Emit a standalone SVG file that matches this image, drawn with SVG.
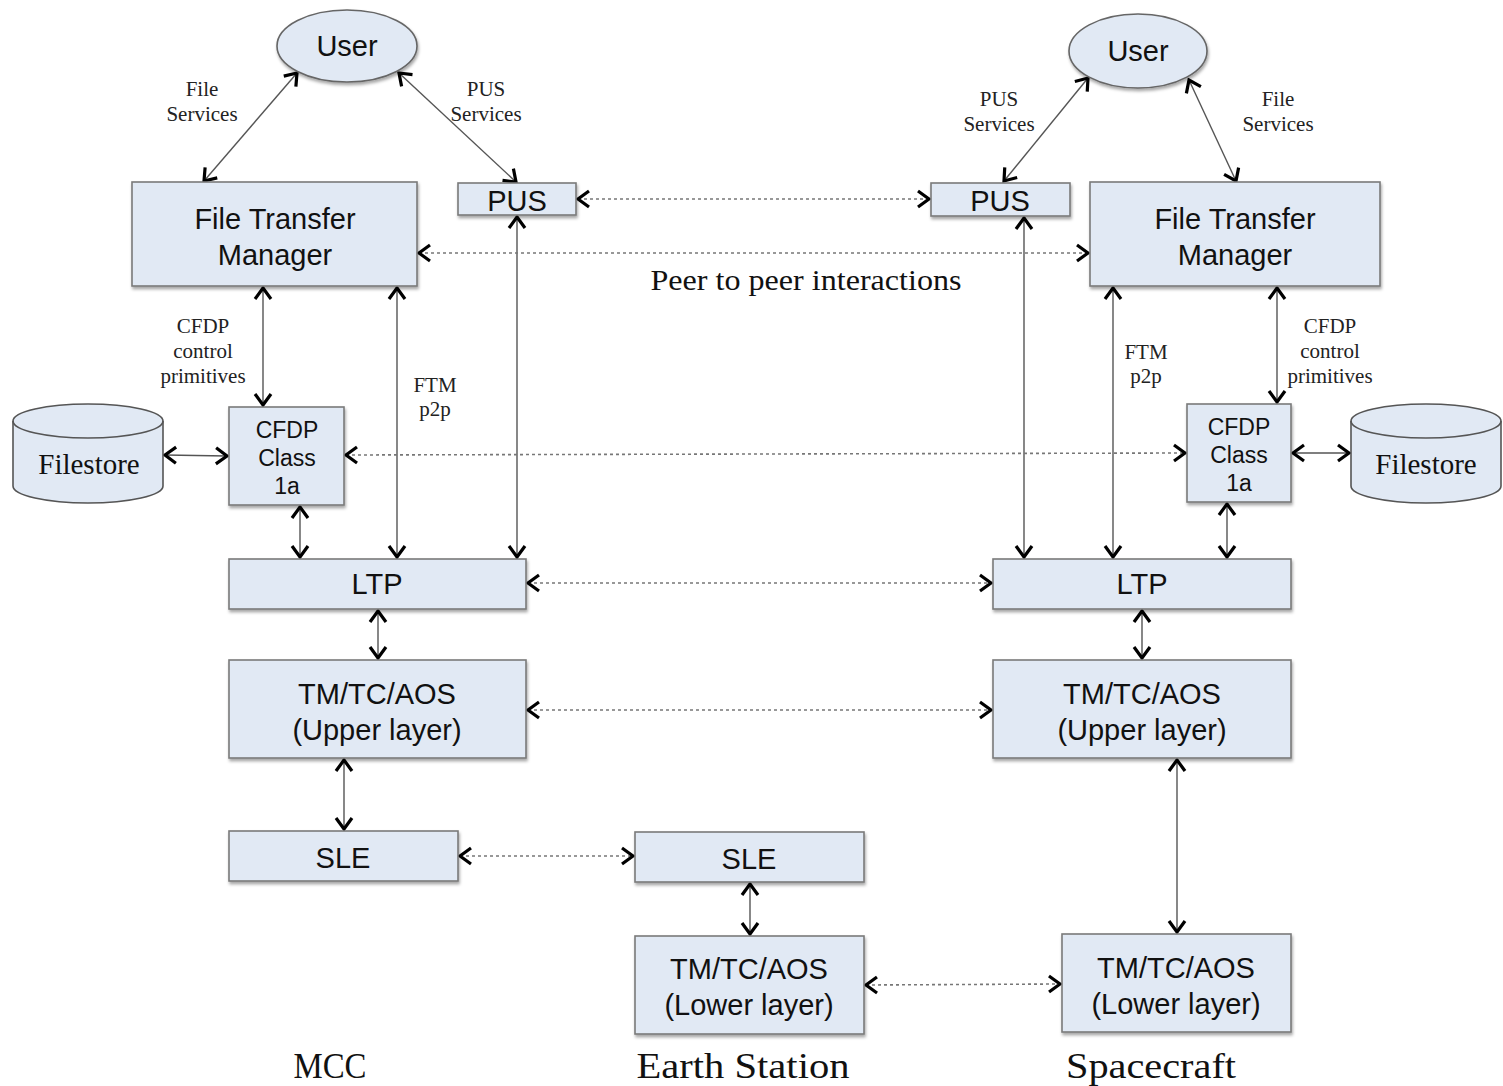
<svg xmlns="http://www.w3.org/2000/svg" width="1503" height="1086" viewBox="0 0 1503 1086">
  <style>
    .box { fill: #e1e9f4; stroke: #7a7a7a; stroke-width: 1.6; filter: url(#shadow); }
    .t { font-family: "Liberation Sans", Arial, sans-serif; fill: #111; text-anchor: middle; }
    .big { font-size: 29px; }
    .mid { font-size: 23px; }
    .lbl { font-family: "Liberation Serif", "Times New Roman", serif; fill: #222; text-anchor: middle; font-size: 21px; }
    .cap { font-family: "Liberation Serif", "Times New Roman", serif; fill: #111; text-anchor: middle; }
    .solid { fill: none; stroke: #555; stroke-width: 1.4; marker-start: url(#chev); marker-end: url(#chev); }
    .dash { fill: none; stroke: #777; stroke-width: 1.6; stroke-dasharray: 3 3; marker-start: url(#chev); marker-end: url(#chev); }
  </style>
  <defs>
    <filter id="shadow" x="-10%" y="-10%" width="130%" height="140%">
      <feDropShadow dx="1" dy="2.5" stdDeviation="1.5" flood-color="#000" flood-opacity="0.35"/>
    </filter>
    <marker id="chev" viewBox="0 0 20 20" markerWidth="20" markerHeight="20" refX="15" refY="10" orient="auto-start-reverse" markerUnits="userSpaceOnUse">
      <path d="M4,2 L15,10 L4,18" fill="none" stroke="#000" stroke-width="3.2" stroke-linejoin="miter"/>
    </marker>
  </defs>

  <rect width="1503" height="1086" fill="#fff"/>

  <!-- connectors -->
  <g id="connectors">
    <!-- MCC side -->
    <line class="solid" x1="297" y1="73" x2="204" y2="181"/>
    <line class="solid" x1="399" y1="73" x2="516" y2="182"/>
    <line class="solid" x1="263" y1="288" x2="263" y2="405"/>
    <line class="solid" x1="397" y1="288" x2="397" y2="557"/>
    <line class="solid" x1="517" y1="217" x2="517" y2="557"/>
    <line class="solid" x1="165" y1="455" x2="227" y2="456"/>
    <line class="solid" x1="300" y1="507" x2="300" y2="557"/>
    <line class="solid" x1="378" y1="611" x2="378" y2="658"/>
    <line class="solid" x1="344" y1="760" x2="344" y2="829"/>
    <!-- Earth station -->
    <line class="solid" x1="750" y1="884" x2="750" y2="934"/>
    <!-- Spacecraft side -->
    <line class="solid" x1="1088" y1="78" x2="1004" y2="181"/>
    <line class="solid" x1="1189" y1="80" x2="1236" y2="181"/>
    <line class="solid" x1="1024" y1="218" x2="1024" y2="557"/>
    <line class="solid" x1="1113" y1="288" x2="1113" y2="557"/>
    <line class="solid" x1="1277" y1="288" x2="1277" y2="402"/>
    <line class="solid" x1="1293" y1="453" x2="1349" y2="453"/>
    <line class="solid" x1="1227" y1="504" x2="1227" y2="557"/>
    <line class="solid" x1="1142" y1="611" x2="1142" y2="658"/>
    <line class="solid" x1="1177" y1="760" x2="1177" y2="932"/>
    <!-- peer to peer -->
    <line class="dash" x1="578" y1="199" x2="929" y2="199"/>
    <line class="dash" x1="419" y1="253" x2="1088" y2="253"/>
    <line class="dash" x1="346" y1="455" x2="1185" y2="453"/>
    <line class="dash" x1="528" y1="583" x2="991" y2="583"/>
    <line class="dash" x1="528" y1="710" x2="991" y2="710"/>
    <line class="dash" x1="460" y1="856" x2="633" y2="856"/>
    <line class="dash" x1="866" y1="985" x2="1060" y2="984"/>
  </g>

  <!-- connector labels -->
  <g id="labels">
    <text class="lbl" x="202" y="96">File</text>
    <text class="lbl" x="202" y="121">Services</text>
    <text class="lbl" x="486" y="96">PUS</text>
    <text class="lbl" x="486" y="121">Services</text>
    <text class="lbl" x="999" y="106">PUS</text>
    <text class="lbl" x="999" y="131">Services</text>
    <text class="lbl" x="1278" y="106">File</text>
    <text class="lbl" x="1278" y="131">Services</text>
    <text class="lbl" x="203" y="333">CFDP</text>
    <text class="lbl" x="203" y="358">control</text>
    <text class="lbl" x="203" y="383">primitives</text>
    <text class="lbl" x="1330" y="333">CFDP</text>
    <text class="lbl" x="1330" y="358">control</text>
    <text class="lbl" x="1330" y="383">primitives</text>
    <text class="lbl" x="435" y="392">FTM</text>
    <text class="lbl" x="435" y="416">p2p</text>
    <text class="lbl" x="1146" y="359">FTM</text>
    <text class="lbl" x="1146" y="383">p2p</text>
    <text class="cap" x="806" y="290" font-size="30" textLength="311" lengthAdjust="spacingAndGlyphs">Peer to peer interactions</text>
  </g>

  <!-- MCC nodes -->
  <g id="user-mcc">
    <ellipse cx="347" cy="46" rx="70" ry="36" fill="#e1e9f4" stroke="#666" stroke-width="1.6" filter="url(#shadow)"/>
    <text class="t big" x="347" y="56">User</text>
  </g>
  <g id="ftm-mcc">
    <rect class="box" x="132" y="182" width="285" height="104"/>
    <text class="t big" x="275" y="229">File Transfer</text>
    <text class="t big" x="275" y="265">Manager</text>
  </g>
  <g id="pus-mcc">
    <rect class="box" x="458" y="183" width="118" height="32"/>
    <text class="t big" x="517" y="211">PUS</text>
  </g>
  <g id="filestore-mcc">
    <path d="M13,421 A75,17 0 0,1 163,421 L163,486 A75,17 0 0,1 13,486 Z" fill="#e1e9f4" stroke="#555" stroke-width="1.6"/>
    <path d="M13,421 A75,17 0 0,0 163,421" fill="none" stroke="#555" stroke-width="1.6"/>
    <text class="cap" x="89" y="474" font-size="29">Filestore</text>
  </g>
  <g id="cfdp-mcc">
    <rect class="box" x="229" y="407" width="115" height="98"/>
    <text class="t mid" x="287" y="438">CFDP</text>
    <text class="t mid" x="287" y="466">Class</text>
    <text class="t mid" x="287" y="494">1a</text>
  </g>
  <g id="ltp-mcc">
    <rect class="box" x="229" y="559" width="297" height="50"/>
    <text class="t big" x="377" y="594">LTP</text>
  </g>
  <g id="tm-upper-mcc">
    <rect class="box" x="229" y="660" width="297" height="98"/>
    <text class="t big" x="377" y="704">TM/TC/AOS</text>
    <text class="t big" x="377" y="740">(Upper layer)</text>
  </g>
  <g id="sle-mcc">
    <rect class="box" x="229" y="831" width="229" height="50"/>
    <text class="t big" x="343" y="868">SLE</text>
  </g>

  <!-- Earth station nodes -->
  <g id="sle-es">
    <rect class="box" x="635" y="832" width="229" height="50"/>
    <text class="t big" x="749" y="869">SLE</text>
  </g>
  <g id="tm-lower-es">
    <rect class="box" x="635" y="936" width="229" height="98"/>
    <text class="t big" x="749" y="979">TM/TC/AOS</text>
    <text class="t big" x="749" y="1015">(Lower layer)</text>
  </g>

  <!-- Spacecraft nodes -->
  <g id="user-sc">
    <ellipse cx="1138" cy="51" rx="69" ry="37" fill="#e1e9f4" stroke="#666" stroke-width="1.6" filter="url(#shadow)"/>
    <text class="t big" x="1138" y="61">User</text>
  </g>
  <g id="pus-sc">
    <rect class="box" x="931" y="183" width="139" height="33"/>
    <text class="t big" x="1000" y="211">PUS</text>
  </g>
  <g id="ftm-sc">
    <rect class="box" x="1090" y="182" width="290" height="104"/>
    <text class="t big" x="1235" y="229">File Transfer</text>
    <text class="t big" x="1235" y="265">Manager</text>
  </g>
  <g id="cfdp-sc">
    <rect class="box" x="1187" y="404" width="104" height="98"/>
    <text class="t mid" x="1239" y="435">CFDP</text>
    <text class="t mid" x="1239" y="463">Class</text>
    <text class="t mid" x="1239" y="491">1a</text>
  </g>
  <g id="filestore-sc">
    <path d="M1351,421 A75,17 0 0,1 1501,421 L1501,486 A75,17 0 0,1 1351,486 Z" fill="#e1e9f4" stroke="#555" stroke-width="1.6"/>
    <path d="M1351,421 A75,17 0 0,0 1501,421" fill="none" stroke="#555" stroke-width="1.6"/>
    <text class="cap" x="1426" y="474" font-size="29">Filestore</text>
  </g>
  <g id="ltp-sc">
    <rect class="box" x="993" y="559" width="298" height="50"/>
    <text class="t big" x="1142" y="594">LTP</text>
  </g>
  <g id="tm-upper-sc">
    <rect class="box" x="993" y="660" width="298" height="98"/>
    <text class="t big" x="1142" y="704">TM/TC/AOS</text>
    <text class="t big" x="1142" y="740">(Upper layer)</text>
  </g>
  <g id="tm-lower-sc">
    <rect class="box" x="1062" y="934" width="229" height="98"/>
    <text class="t big" x="1176" y="978">TM/TC/AOS</text>
    <text class="t big" x="1176" y="1014">(Lower layer)</text>
  </g>

  <!-- segment captions -->
  <g id="captions">
    <text class="cap" x="330" y="1078" font-size="36" textLength="73" lengthAdjust="spacingAndGlyphs">MCC</text>
    <text class="cap" x="743" y="1078" font-size="36" textLength="213" lengthAdjust="spacingAndGlyphs">Earth Station</text>
    <text class="cap" x="1151" y="1078" font-size="36" textLength="170" lengthAdjust="spacingAndGlyphs">Spacecraft</text>
  </g>
</svg>
